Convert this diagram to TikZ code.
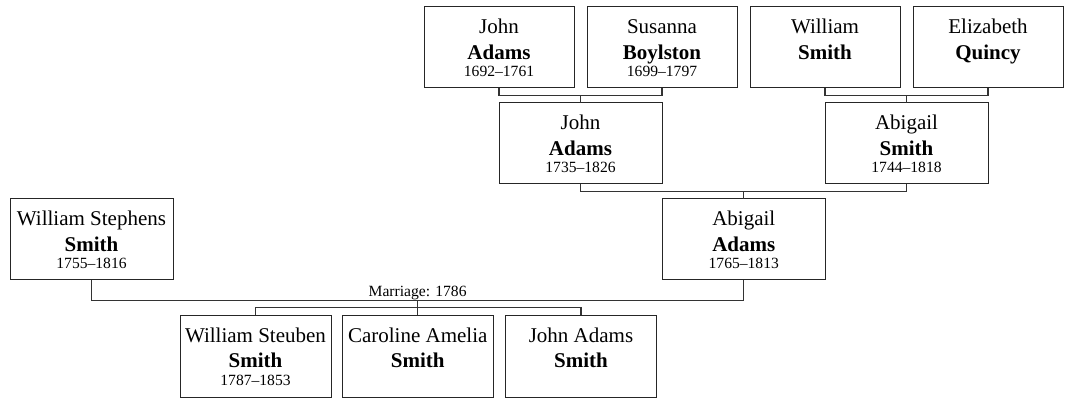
\documentclass[tikz,border=0pt]{standalone}
\usepackage{fontspec}
\setmainfont{Liberation Serif}
\newcommand\persbox[5]{%
\parbox[c][#2][t]{#1}{\centering
\fontsize{21}{26}\selectfont\rule{0pt}{27pt}#3\par
\textbf{#4}\par
\fontsize{15.6}{17}\selectfont #5\par}}
\tikzset{
  pbox/.style={draw=black!85, line width=1pt, rectangle, inner sep=0pt, outer sep=0pt},
  link/.style={draw=black!80, line width=1.3pt},
  marr/.style={font=\fontsize{15.6}{17}\selectfont, inner sep=0pt, anchor=base, yshift=4.5pt}
}
\begin{document}
\begin{tikzpicture}[x=1pt,y=-1pt]
\useasboundingbox (0,0) rectangle (1066,398);
% generation 1
\node[pbox] (ja1) at (499,47.5) {\persbox{150pt}{81pt}{John}{Adams}{1692\textendash1761}};
\node[pbox] (sb)  at (662,47.5) {\persbox{150pt}{81pt}{Susanna}{Boylston}{1699\textendash1797}};
\node[pbox] (ws1) at (825,47.5) {\persbox{150pt}{81pt}{William}{Smith}{}};
\node[pbox] (eq)  at (988,47.5) {\persbox{150pt}{81pt}{Elizabeth}{Quincy}{}};
% generation 2
\node[pbox] (ja2) at (580.5,143.5) {\persbox{163pt}{81pt}{John}{Adams}{1735\textendash1826}};
\node[pbox] (as)  at (906.5,143.5) {\persbox{163pt}{81pt}{Abigail}{Smith}{1744\textendash1818}};
% generation 3
\node[pbox] (aa)  at (743.75,239.5) {\persbox{163pt}{81pt}{Abigail}{Adams}{1765\textendash1813}};
\node[pbox] (wss) at (91.5,239.5) {\persbox{163pt}{81pt}{William Stephens}{Smith}{1755\textendash1816}};
% children
\node[pbox] (wst) at (255.5,356) {\persbox{151pt}{82pt}{William Steuben}{Smith}{1787\textendash1853}};
\node[pbox] (cas) at (417.75,356) {\persbox{151pt}{82pt}{Caroline Amelia}{Smith}{}};
\node[pbox] (jas) at (581,356) {\persbox{151pt}{82pt}{John Adams}{Smith}{}};
% connectors
\draw[link] (ja1.south) -- ++(0,7.5) -| (sb.south);
\draw[link] (ja2.north) -- ++(0,-7.5);
\draw[link] (ws1.south) -- ++(0,7.5) -| (eq.south);
\draw[link] (as.north) -- ++(0,-7.5);
\draw[link] (ja2.south) -- ++(0,7.5) -| (as.south);
\draw[link] (aa.north) -- ++(0,-7.5);
\draw[link] (wss.south) -- ++(0,20.5) -| node[marr, pos=0.25] {Marriage: 1786} (aa.south);
\draw[link] (wst.north) -- ++(0,-7.5) -| (jas.north);
\draw[link] (cas.north) -- ++(0,-14.5);
\end{tikzpicture}
\end{document}
